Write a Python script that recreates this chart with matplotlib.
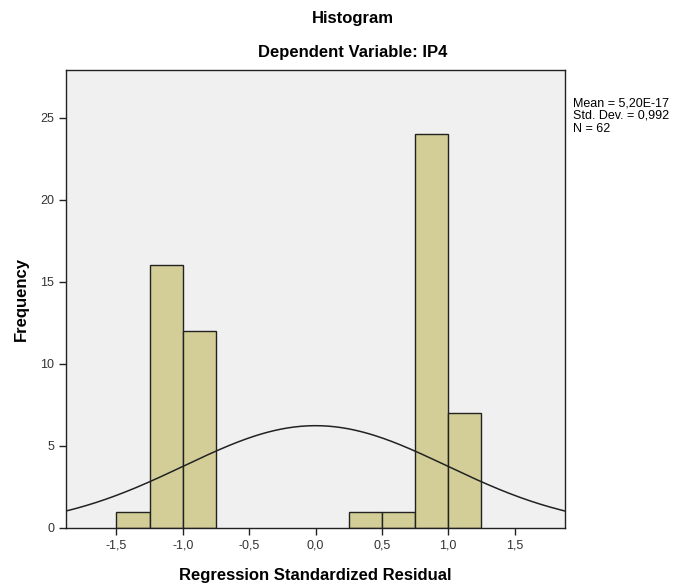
import numpy as np
import matplotlib.pyplot as plt

# histogram bins (residual, width 0.25) and counts
bin_edges = [-1.5, -1.25, -1.0, -0.75, -0.5, -0.25, 0.0, 0.25, 0.5, 0.75, 1.0, 1.25]
counts = [1, 16, 12, 0, 0, 0, 0, 1, 1, 24, 7]
mean = 5.20e-17
std = 0.992
n = 62
xticks = [-1.5, -1.0, -0.5, 0.0, 0.5, 1.0, 1.5]
yticks = [0, 5, 10, 15, 20, 25]

plt.rcParams['font.family'] = ['Liberation Sans', 'DejaVu Sans']

fig = plt.figure(figsize=(6.76, 5.87), dpi=100)
ax = fig.add_axes([66/676, 1-528/587, (565-66)/676, (528-70)/587])
ax.set_facecolor('#f0f0f0')

lefts = bin_edges[:-1]
widths = np.diff(bin_edges)
for l, w, c in zip(lefts, widths, counts):
    if c > 0:
        ax.bar(l, c, width=w, align='edge', color='#d3ce98', edgecolor='#222222', linewidth=1.0, zorder=2)

# fitted normal curve
bw = 0.25
xs = np.linspace(-1.88, 1.88, 300)
ys = n * bw * np.exp(-0.5 * ((xs - mean) / std) ** 2) / (std * np.sqrt(2 * np.pi))
ax.plot(xs, ys, color='#222222', linewidth=1.1, zorder=3)

ax.set_xlim(-1.88, 1.88)
ax.set_ylim(0, 27.9)
ax.set_xticks(xticks)
ax.set_xticklabels([f'{t:.1f}'.replace('.', ',') for t in xticks])
ax.set_yticks(yticks)
ax.tick_params(direction='out', length=5, width=1, labelsize=9, colors='#222222', labelcolor='#333333')
for s in ax.spines.values():
    s.set_color('#222222')
    s.set_linewidth(1)

ax.set_xlabel('Regression Standardized Residual', fontsize=12, fontweight='bold', labelpad=12)
ax.set_ylabel('Frequency', fontsize=12, fontweight='bold', labelpad=8)

fig.text(353/676, 1-18/587, 'Histogram', ha='center', va='center', fontsize=12, fontweight='bold')
fig.text(353/676, 1-53/587, 'Dependent Variable: IP4', ha='center', va='center', fontsize=12, fontweight='bold')

stats = 'Mean = 5,20E-17\nStd. Dev. = 0,992\nN = 62'
fig.text(573/676, 1-97/587, stats, ha='left', va='top', fontsize=9, linespacing=1.1)

fig.savefig('out.png', dpi=100)
